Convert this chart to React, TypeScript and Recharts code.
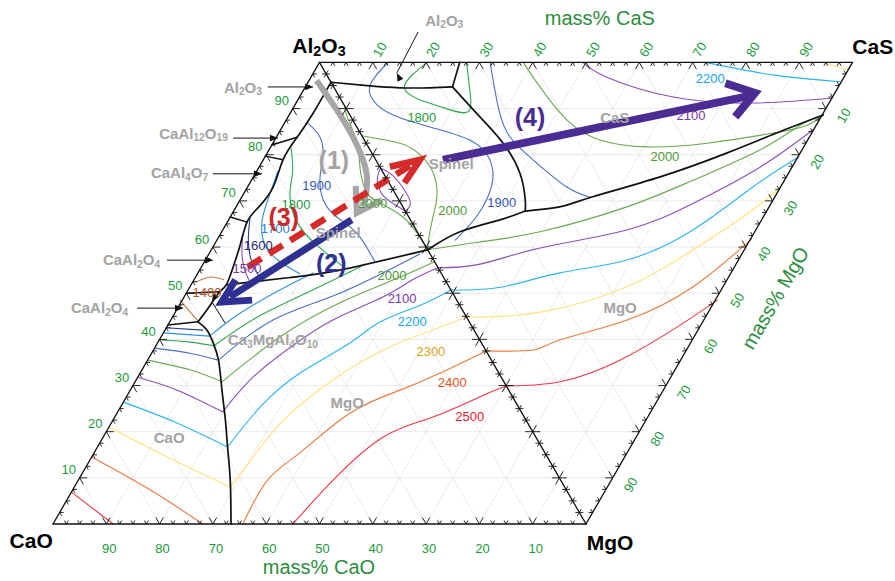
import React from 'react';
import { ComposedChart, Line, Scatter, XAxis, YAxis } from 'recharts';

// Two joined ternaries on one frame (side = 1):
// CaO (0,0), MgO (1,0), Al2O3 (0.5,H), CaS (1.5,H)
const H = Math.sqrt(3) / 2;
const SIDE_PX = 533;
const CORNER_X = 53; // chart px of the CaO corner
const BASE_Y = 524; // chart px of the CaO–MgO base
const WIDTH = 895;
const HEIGHT = 581;
const X_DOMAIN = [-CORNER_X / SIDE_PX, (WIDTH - CORNER_X) / SIDE_PX];
const Y_DOMAIN = [(BASE_Y - HEIGHT) / SIDE_PX, BASE_Y / SIDE_PX];

const FONT = '"Liberation Sans", Arial, Helvetica, sans-serif';

// ---- axis ticks (mass%) ----
const CAO_TICKS = [90, 80, 70, 60, 50, 40, 30, 20, 10];
const AL2O3_TICKS = [10, 20, 30, 40, 50, 60, 70, 80, 90];
const CAS_TICKS = [10, 20, 30, 40, 50, 60, 70, 80, 90];
const MGO_TICKS = [10, 20, 30, 40, 50, 60, 70, 80, 90];
const GRID_LEVELS = [10, 20, 30, 40, 50, 60, 70, 80, 90];

// ---- phase boundaries ----
// "L" side points are [mass% CaO, mass% Al2O3], "R" side points are [mass% CaS, mass% MgO]
const VALLEY_L = [
  [0, 95.7], [6.7, 89.0], [12.3, 83.8], [17.4, 78.9], [22.2, 73.0], [27.3, 68.5], [30.9, 65.4],
  [34.7, 60.4], [38.5, 55.5], [41.6, 51.8], [43.6, 50.3], [46.8, 47.4], [50.9, 43.8],
];
const CAO_MGO_L = [
  [50.9, 43.8], [50.1, 42.0], [50.3, 39.4], [51.2, 35.5], [53.8, 29.0], [56.4, 22.5], [58.9, 16.7],
  [62.0, 9.5], [66.6, 0],
];
const CA6_L = [[17.9, 82.1], [12.3, 83.8]];
const CA6_LOWER_L = [[20.3, 79.7], [17.4, 78.9]];
const CA2_L = [[33.5, 66.5], [30.9, 65.4]];
const CA_L = [[50, 50], [43.6, 50.3]];
const C_L = [[56.9, 43.1], [50.9, 43.8]];
const SPINEL_MGO_L = [[41.6, 51.8], [28.8, 53.4], [18.7, 55.0], [0, 59.4]];

const AL2O3_SPINEL_R = [[0, 4.3], [6.9, 5.1], [12.3, 5.5], [17.9, 5.5], [22.3, 5.3]];
const AL2O3_CAS_R = [[22.3, 5.3], [26.3, 0]];
const SPINEL_CAS_R = [[22.3, 5.3], [24.2, 11.8], [25.7, 17.5], [25.6, 24.0], [23.7, 29.8], [22.5, 32.2]];
const SPINEL_MGO_R = [[22.5, 32.2], [16.8, 34.1], [8.0, 36.7], [0, 40.6]];
const CAS_MGO_R = [
  [22.5, 32.2], [29.4, 31.3], [36.7, 29.1], [51.5, 24.8], [66.7, 19.6], [78.1, 15.3], [88.8, 11.4],
];

// ---- liquidus isotherms (°C) ----
const T1400 = {
  L: [
    [[47.0, 52.4], [43.7, 53.5], [41.5, 52.9]],
    [[51.9, 48.5], [51.3, 45.9], [50.8, 44.0]],
  ],
};
const T1500 = { L: [[[33.1, 62.6], [35.4, 58.3], [36.5, 55.0], [36.9, 52.2]]] };
const T1600 = {
  L: [
    [[29.9, 66.3], [32.6, 61.5], [34.3, 56.8], [34.5, 52.6]],
    [[57.5, 42.5], [50.9, 42.0]],
  ],
};
const T1700 = {
  L: [
    [[19.7, 76.3], [24.6, 70.2], [28.1, 65.4], [30.0, 60.4], [29.0, 56.8], [26.6, 54.2]],
    [[58.6, 41.4], [50.3, 40.7]],
    [[50.3, 40.7], [42.0, 45.7], [32.1, 50.7], [24.0, 54.4]],
  ],
};
const T1800 = {
  L: [
    [[14.6, 81.5], [16.9, 76.3], [19.9, 71.3], [21.5, 65.4], [20.3, 60.4], [17.5, 55.5]],
    [[60.1, 39.9], [54.6, 39.4], [50.5, 38.6]],
    [[50.5, 38.6], [39.3, 44.8], [25.9, 50.7], [13.4, 56.2]],
  ],
  R: [[[20.2, 0], [13.4, 5.1], [14.8, 8.1], [18.6, 9.9], [22.5, 10.7], [25.2, 6.0], [27.6, 0]]],
};
const T1900 = {
  L: [
    [[8.8, 86.9], [8.0, 83.8], [9.6, 79.5], [12.3, 75.2], [14.2, 70.2], [13.5, 66.5], [11.5, 63.0], [11.2, 56.9]],
    [[61.9, 38.1], [55.8, 37.0], [51.2, 35.5]],
    [[51.2, 35.5], [36.6, 44.2], [21.2, 50.0], [1.9, 58.5]],
  ],
  R: [
    [[12.9, 0], [6.9, 5.1], [6.2, 9.2], [9.1, 12.0], [15.3, 14.6], [20.2, 17.2], [21.4, 21.1], [19.1, 26.5], [13.2, 33.0], [6.2, 38.5]],
    [[32, 0], [29.2, 8.1], [27.6, 15.3], [29.5, 21.1], [32.9, 27.0], [36.2, 29.2]],
  ],
};
const T2000 = {
  L: [
    [[0, 90.5], [0.7, 88.2], [1.7, 82.5], [4.0, 76.7], [5.2, 71.7], [3.8, 69.5], [1.1, 66.5], [0.2, 63.0], [0, 59.4]],
    [[64.5, 35.5], [57.6, 33.4], [52.9, 30.8]],
    [[52.9, 30.8], [37.2, 40.5], [22.3, 47.9], [8.1, 53.5], [0, 56.8]],
  ],
  R: [
    [[0, 15.9], [3.9, 16.8], [7.1, 17.9], [8.9, 20.1], [9.4, 23.7], [7.7, 28.7], [4.4, 33.7], [1.2, 38.5], [0, 40.6]],
    [[38.2, 0], [38.7, 5.3], [40.2, 12.5], [44.2, 16.8], [52.2, 18.3], [64.0, 17.5], [77.5, 15.3], [84.7, 13.6], [88.8, 11.4]],
    [[0, 40.6], [10.6, 38.9], [23.0, 36.7], [42.0, 31.3], [57.4, 25.5], [73.1, 19.0], [83.4, 13.6], [88.8, 11.4]],
  ],
};
const T2100 = {
  L: [
    [[0, 77.1], [1.9, 74.5], [2.5, 71.3], [1.2, 69.1], [0, 67.8]],
    [[68.2, 31.8], [62.2, 29.0], [56.0, 24.3]],
    [[56.0, 24.3], [46.6, 31.8], [36.3, 38.3], [25.4, 44.2], [13.5, 49.2], [6.1, 52.9], [0, 55.5]],
  ],
  R: [
    [[0, 22.9], [1.5, 24.6], [2.1, 27.6], [1.8, 30.5], [0, 32.2]],
    [[49.4, 0], [52.3, 3.2], [62.6, 7.5], [76.9, 8.8], [92.4, 7.7]],
    [[0, 44.5], [8.3, 43.7], [21.3, 40.2], [39.5, 36.3], [54.9, 30.5], [71.3, 22.7], [85.3, 14.6]],
  ],
};
const T2200 = {
  L: [
    [[73.6, 26.4], [65.8, 21.9], [58.9, 16.7]],
    [[58.9, 16.7], [48.5, 25.3], [37.3, 32.7], [24.7, 39.2], [16.7, 43.8], [7.4, 47.4], [0, 50.7]],
  ],
  R: [
    [[72.3, 0], [83.7, 2.7], [95.6, 4.2]],
    [[0, 49.3], [9.6, 48.7], [22.3, 45.6], [36.3, 42.8], [51.9, 36.3], [67.8, 27.0], [79.6, 20.5]],
  ],
};
const T2300 = {
  L: [
    [[79, 21], [71.3, 14.5], [62.8, 8.0]],
    [[62.8, 8.0], [55.2, 14.5], [45.5, 22.5], [31.9, 31.2], [19.2, 37.7], [8.4, 41.8], [0, 44.8]],
  ],
  R: [
    [[94.5, 0], [98.3, 1.6]],
    [[0, 55.2], [14.4, 54.1], [33.4, 48.6], [49.8, 40.6], [62.7, 33.5], [72.8, 27.2]],
  ],
};
const T2400 = {
  L: [
    [[85.5, 14.5], [78.1, 7.4], [71.9, 0]],
    [[64.4, 0], [55.0, 9.5], [46.0, 15.4], [32.3, 24.0], [20.4, 29.0], [11.0, 32.7], [0, 37.5]],
  ],
  R: [[[0, 62.5], [9.0, 62.3], [15.1, 60.1], [29.8, 55.8], [45.8, 48.6], [61.9, 38.3]]],
};
const T2500 = {
  L: [
    [[93.1, 6.9], [88.7, 0]],
    [[55, 0], [42.7, 9.5], [28.7, 18.8], [17.1, 23.2], [5.3, 27.9], [0, 29.9]],
  ],
  R: [[[0, 70.1], [10.5, 69.2], [24.1, 64.5], [38.5, 57.3], [48.9, 51.5]]],
};

const ISOTHERMS: [number, { L?: number[][][]; R?: number[][][] }][] = [
  [1400, T1400], [1500, T1500], [1600, T1600], [1700, T1700], [1800, T1800], [1900, T1900],
  [2000, T2000], [2100, T2100], [2200, T2200], [2300, T2300], [2400, T2400], [2500, T2500],
];

// line colour, label colour
const ISO_COLORS: Record<number, [string, string]> = {
  1400: ['#c57a48', '#b5532c'],
  1500: ['#8a52b3', '#7a3aa6'],
  1600: ['#2b3a8c', '#1f2a70'],
  1700: ['#3090e0', '#1f86d8'],
  1800: ['#2ea84f', '#1e9a40'],
  1900: ['#4a6fc8', '#3558b5'],
  2000: ['#6aa84f', '#4e9a38'],
  2100: ['#8c4fb8', '#7b35a8'],
  2200: ['#2bb4f0', '#16a6ea'],
  2300: ['#ffe27a', '#d9a31c'],
  2400: ['#ec7a3c', '#e0542a'],
  2500: ['#f03545', '#e8202c'],
};

// ---- annotation arrows ----
const ARROW_1 = [['L', 2.5, 96.1], ['L', 1.9, 89.7], ['L', 1.8, 83.8], ['L', 2.4, 78.9], ['L', 3.8, 74.5], ['L', 6.4, 70.2], ['L', 7.6, 68.9]];
const ARROW_1_HEAD = [['L', 6.6, 73.2], ['L', 9.3, 67.4], ['L', 3.2, 70.2]];
const ARROW_2 = [['L', 11.0, 65.9], ['L', 42.2, 49.2]];
const ARROW_2_HEAD = [['L', 39.3, 52.9], ['L', 44.3, 48.1], ['L', 38.4, 48.5]];
const ARROW_3 = [['L', 35.6, 55.7], ['R', 6.5, 22.0]];
const ARROW_3_HEAD = [['R', 1.9, 22.6], ['R', 8.3, 21.1], ['R', 2.9, 26.1]];
const ARROW_4 = [['R', 12.6, 21.1], ['R', 76.8, 7.3]];
const ARROW_4_HEAD = [['R', 73.9, 4.5], ['R', 78.4, 6.6], ['R', 72.1, 11.8]];

// ---- layout (frame units) ----
const POINTERS = [
  [[0.403, 0.82], [0.488, 0.82]],
  [[0.338, 0.724], [0.422, 0.724]],
  [[0.3, 0.657], [0.392, 0.657]],
  [[0.214, 0.495], [0.3, 0.495]],
  [[0.158, 0.405], [0.244, 0.405]],
  [[0.323, 0.377], [0.298, 0.417]],
  [[0.685, 0.923], [0.645, 0.846]],
];
const PHASE_LABELS: [string, number, number, string][] = [
  ['Al2O3', 0.734, 0.946, 'middle'],
  ['Al2O3', 0.392, 0.82, 'end'],
  ['CaAl12O19', 0.328, 0.734, 'end'],
  ['CaAl4O7', 0.291, 0.66, 'end'],
  ['CaAl2O4', 0.201, 0.497, 'end'],
  ['CaAl2O4', 0.141, 0.407, 'end'],
  ['Ca3MgAl4O10', 0.328, 0.347, 'start'],
  ['CaO', 0.218, 0.163, 'middle'],
  ['MgO', 0.552, 0.229, 'middle'],
  ['MgO', 1.064, 0.407, 'middle'],
  ['CaS', 1.054, 0.764, 'middle'],
  ['Spinel', 0.747, 0.677, 'middle'],
  ['Spinel', 0.535, 0.548, 'middle'],
];
const ISO_LABELS: [number, number, number][] = [
  [1900, 0.495, 0.636], [1800, 0.456, 0.6], [1700, 0.417, 0.555], [1600, 0.385, 0.523],
  [1500, 0.364, 0.48], [1400, 0.289, 0.435], [2000, 0.6, 0.602], [2000, 0.636, 0.467],
  [2100, 0.655, 0.424], [2200, 0.674, 0.379], [2300, 0.709, 0.323], [2400, 0.749, 0.266],
  [2500, 0.782, 0.201], [1800, 0.692, 0.762], [2000, 0.75, 0.589], [1900, 0.842, 0.604],
  [2000, 1.148, 0.689], [2100, 1.197, 0.767], [2200, 1.233, 0.835],
];
const CORNER_LABELS: [string, number, number][] = [
  ['Al2O3', 0.499, 0.899], ['CaS', 1.538, 0.897], ['CaO', -0.041, -0.03], ['MgO', 1.045, -0.034],
];
const AXIS_TITLES: [string, number, number, number][] = [
  ['mass% CaS', 1.026, 0.949, 0], ['mass% CaO', 0.499, -0.081, 0], ['mass% MgO', 1.355, 0.424, -60],
];
const ARROW_LABELS: [string, number, number, string][] = [
  ['(1)', 0.527, 0.683, '#a3a3a3'], ['(2)', 0.522, 0.49, '#2e3192'],
  ['(3)', 0.433, 0.576, '#d0262a'], ['(4)', 0.895, 0.763, '#4a2c92'],
];

type Pt = { x: number; y: number };
const fromL = ([c, a]: number[]): Pt => ({ x: (100 - c - a / 2) / 100, y: (H * a) / 100 });
const fromR = ([s, m]: number[]): Pt => ({ x: (50 + s + m / 2) / 100, y: (H * (100 - m)) / 100 });
const fromTagged = (p: any[]): Pt => (p[0] === 'L' ? fromL([p[1], p[2]]) : fromR([p[1], p[2]]));

type Series = {
  id: string; pts: Pt[]; stroke: string; width: number;
  curve: 'linear' | 'natural'; dash?: string; cap?: 'round' | 'butt';
};

const series: Series[] = [];
const add = (s: Omit<Series, 'id'>) => series.push({ ...s, id: `s${series.length}` });

// faint composition grid
GRID_LEVELS.forEach((v) => {
  const segs = [
    [fromL([100 - v, v]), fromL([0, v])],
    [fromL([v, 0]), fromL([v, 100 - v])],
    [fromL([100 - v, 0]), fromL([0, 100 - v])],
    [fromR([0, v]), fromR([100 - v, v])],
    [fromR([v, 0]), fromR([v, 100 - v])],
    [fromR([100 - v, 0]), fromR([0, 100 - v])],
  ];
  segs.forEach((pts) => add({ pts, stroke: '#e6e6e6', width: 0.8, curve: 'linear' }));
});

ISOTHERMS.forEach(([t, iso]) => {
  const [color] = ISO_COLORS[t];
  (iso.L || []).forEach((p) => add({ pts: p.map(fromL), stroke: color, width: 1.1, curve: 'natural' }));
  (iso.R || []).forEach((p) => add({ pts: p.map(fromR), stroke: color, width: 1.1, curve: 'natural' }));
});

[VALLEY_L, CAO_MGO_L, SPINEL_MGO_L].forEach((p) =>
  add({ pts: p.map(fromL), stroke: '#111', width: 1.7, curve: 'natural' }));
[CA6_L, CA6_LOWER_L, CA2_L, CA_L, C_L].forEach((p) =>
  add({ pts: p.map(fromL), stroke: '#111', width: 1.5, curve: 'linear' }));
[AL2O3_SPINEL_R, AL2O3_CAS_R, SPINEL_CAS_R, SPINEL_MGO_R, CAS_MGO_R].forEach((p) =>
  add({ pts: p.map(fromR), stroke: '#111', width: 1.7, curve: 'natural' }));

// triangle edges
[
  [fromL([100, 0]), fromL([0, 0])],
  [fromL([100, 0]), fromL([0, 100])],
  [fromL([0, 100]), fromL([0, 0])],
  [fromR([0, 0]), fromR([100, 0])],
  [fromR([100, 0]), fromR([0, 100])],
].forEach((pts) => add({ pts, stroke: '#111', width: 1.3, curve: 'linear' }));

// label pointers
POINTERS.forEach(([a, b]) =>
  add({ pts: [{ x: a[0], y: a[1] }, { x: b[0], y: b[1] }], stroke: '#111', width: 1, curve: 'linear', cap: 'butt' }));

const arrowSeries: Series[] = [];
const addArrow = (shaft: any[][], head: any[][], stroke: string, width: number, curve: 'linear' | 'natural', dash?: string) => {
  arrowSeries.push({ id: `a${arrowSeries.length}`, pts: shaft.map(fromTagged), stroke, width, curve, dash, cap: 'butt' });
  arrowSeries.push({ id: `a${arrowSeries.length}`, pts: head.map(fromTagged), stroke, width, curve: 'linear', cap: 'butt' });
};
addArrow(ARROW_1, ARROW_1_HEAD, '#a6a6a6', 6, 'natural');
addArrow(ARROW_3, ARROW_3_HEAD, '#d42a2a', 6.5, 'linear', '16 9');
addArrow(ARROW_2, ARROW_2_HEAD, '#2e3192', 7, 'linear');
addArrow(ARROW_4, ARROW_4_HEAD, '#4a2c92', 8, 'linear');

// tick marks every 2.5 mass%, longer at every 10
const EDGES: { at: (t: number) => Pt; dirs: number[][] }[] = [
  { at: (t) => fromL([100 - t, 0]), dirs: [[-0.5, -H], [0.5, -H]] },
  { at: (t) => fromL([100 - t, t]), dirs: [[1, 0], [0.5, H]] },
  { at: (t) => fromL([0, t]), dirs: [[-1, 0], [-0.5, H], [1, 0], [0.5, -H]] },
  { at: (t) => fromR([t, 0]), dirs: [[-0.5, H], [0.5, H]] },
  { at: (t) => fromR([100 - t, t]), dirs: [[-1, 0], [-0.5, -H]] },
];
const ticks: any[] = [];
EDGES.forEach((e) => {
  for (let i = 1; i < 40; i += 1) {
    const t = i * 2.5;
    ticks.push({ ...e.at(t), dirs: e.dirs, len: t % 10 === 0 ? 7.5 : 4 });
  }
});

const TICK_GREEN = '#1c9a3c';
const TITLE_GREEN = '#2b8c3e';
const texts: any[] = [];
CAO_TICKS.forEach((v) => texts.push({ ...fromL([v, 0]), text: String(v), dx: 3, dy: 24, size: 13, color: TICK_GREEN }));
AL2O3_TICKS.forEach((v) => texts.push({ ...fromL([100 - v, v]), text: String(v), dx: -11, dy: -8, size: 13, color: TICK_GREEN }));
CAS_TICKS.forEach((v) => texts.push({ ...fromR([v, 0]), text: String(v), dx: 7, dy: -13, size: 13, color: TICK_GREEN, rotate: -60 }));
MGO_TICKS.forEach((v) => texts.push({ ...fromR([100 - v, v]), text: String(v), dx: 18, dy: 7, size: 13, color: TICK_GREEN, rotate: -60 }));
ISO_LABELS.forEach(([t, x, y]) => texts.push({ x, y, text: String(t), size: 13, color: ISO_COLORS[t][1] }));
PHASE_LABELS.forEach(([text, x, y, anchor]) =>
  texts.push({ x, y, text, anchor, size: 15, weight: 'bold', color: '#a3a3a3', chem: true }));
CORNER_LABELS.forEach(([text, x, y]) => texts.push({ x, y, text, size: 21, weight: 'bold', color: '#000', chem: true }));
AXIS_TITLES.forEach(([text, x, y, rotate]) => texts.push({ x, y, text, size: 20, color: TITLE_GREEN, rotate }));

const arrowTexts = ARROW_LABELS.map(([text, x, y, color]) => ({ x, y, text, size: 25, weight: 'bold', color }));

const heads = POINTERS.map(([a, b]) => ({ x: b[0], y: b[1], angle: Math.atan2(-(b[1] - a[1]), b[0] - a[0]) }));

const chemSpans = (text: string, size: number) => {
  const parts = text.match(/\d+|\D+/g) || [];
  const shift = size * 0.3;
  let low = false;
  return parts.map((part, i) => {
    const sub = /^\d+$/.test(part);
    const dy = sub === low ? 0 : sub ? shift : -shift;
    low = sub;
    return (
      <tspan key={i} dy={dy} fontSize={sub ? size * 0.68 : size}>
        {part}
      </tspan>
    );
  });
};

const TextShape = (props: any) => {
  const { cx, cy, payload: p } = props;
  const x = cx + (p.dx || 0);
  const y = cy + (p.dy || 0);
  return (
    <text
      x={x}
      y={y}
      fill={p.color}
      fontSize={p.size}
      fontWeight={p.weight || 'normal'}
      fontFamily={FONT}
      textAnchor={p.anchor || 'middle'}
      dominantBaseline="central"
      transform={p.rotate ? `rotate(${p.rotate} ${x} ${y})` : undefined}
    >
      {p.chem ? chemSpans(p.text, p.size) : p.text}
    </text>
  );
};

const TickShape = (props: any) => {
  const { cx, cy, payload: p } = props;
  const d = p.dirs
    .map(([ux, uy]: number[]) => `M${cx} ${cy}l${(ux * p.len).toFixed(2)} ${(uy * p.len).toFixed(2)}`)
    .join('');
  return <path d={d} stroke="#111" strokeWidth={0.9} fill="none" />;
};

const HeadShape = (props: any) => {
  const { cx, cy, payload: p } = props;
  const len = 8;
  const half = 3.3;
  const bx = cx - len * Math.cos(p.angle);
  const by = cy + len * Math.sin(p.angle);
  const nx = Math.sin(p.angle) * half;
  const ny = Math.cos(p.angle) * half;
  return <polygon points={`${cx},${cy} ${bx + nx},${by + ny} ${bx - nx},${by - ny}`} fill="#111" />;
};

const renderLine = (s: Series) => (
  <Line
    key={s.id}
    data={s.pts}
    dataKey="y"
    type={s.curve}
    stroke={s.stroke}
    strokeWidth={s.width}
    strokeDasharray={s.dash}
    strokeLinecap={s.cap || 'round'}
    strokeLinejoin="miter"
    dot={false}
    activeDot={false}
    legendType="none"
    isAnimationActive={false}
  />
);

export default function App() {
  // pinned to the page corner so the drawing uses the whole window
  return (
    <div style={{ position: 'absolute', left: 0, top: 0 }}>
      <ComposedChart width={WIDTH} height={HEIGHT} margin={{ top: 0, right: 0, bottom: 0, left: 0 }}>
        <XAxis type="number" dataKey="x" domain={X_DOMAIN} allowDataOverflow hide />
        <YAxis type="number" dataKey="y" domain={Y_DOMAIN} allowDataOverflow hide />
        {series.map(renderLine)}
        <Scatter data={ticks} shape={TickShape} isAnimationActive={false} />
        <Scatter data={heads} shape={HeadShape} isAnimationActive={false} />
        <Scatter data={texts} shape={TextShape} isAnimationActive={false} />
        {arrowSeries.map(renderLine)}
        <Scatter data={arrowTexts} shape={TextShape} isAnimationActive={false} />
      </ComposedChart>
    </div>
  );
}
